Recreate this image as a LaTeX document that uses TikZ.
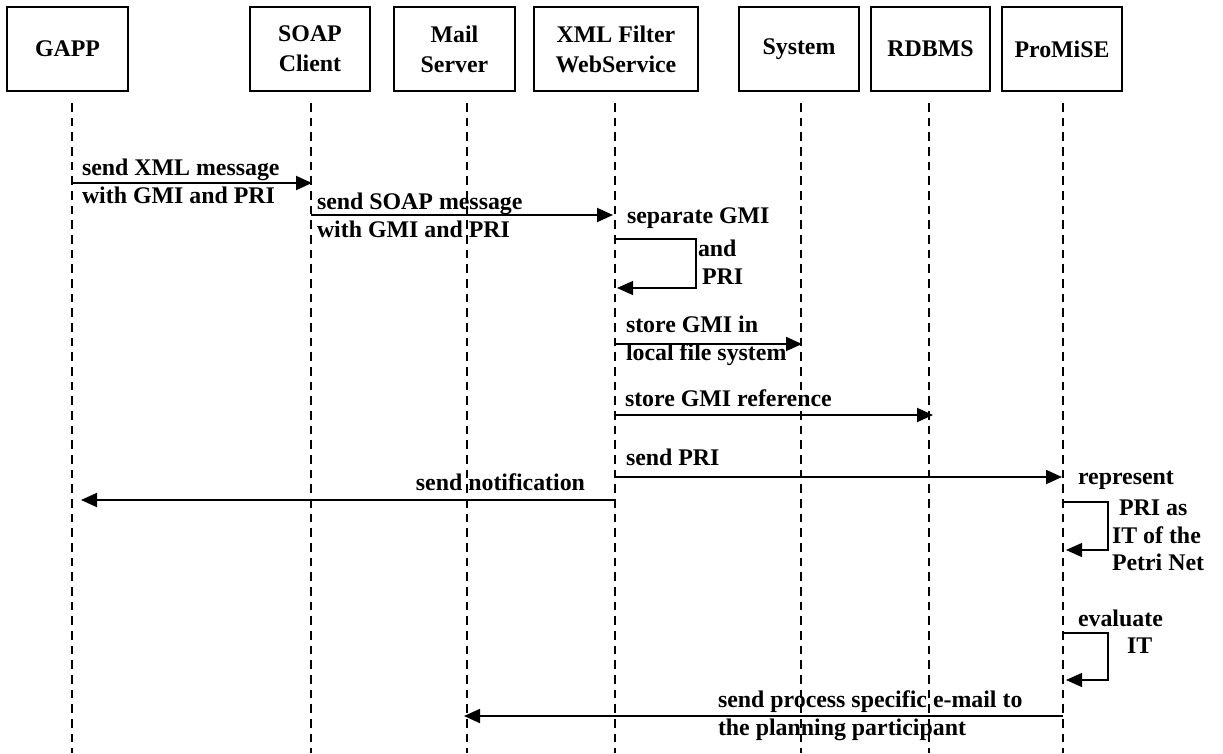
\documentclass[tikz,border=0pt]{standalone}
\usepackage{fontspec}
\setmainfont{Liberation Serif}
\usetikzlibrary{arrows.meta}
\begin{document}
\begin{tikzpicture}[x=0.75pt,y=-0.75pt,
  every node/.style={font=\fontsize{17.9}{21}\selectfont\bfseries, inner sep=0pt, outer sep=0pt},
  actor/.style={draw, line width=1.3pt, minimum height=63pt, align=center, font=\fontsize{17.9}{22.5}\selectfont\bfseries},
  life/.style={line width=1pt, dash pattern=on 6.5pt off 4.5pt},
  msg/.style={draw, line width=1.4pt, -{Triangle[length=12pt,width=10.5pt]}},
  loopmsg/.style={draw, line width=1pt, -{Triangle[length=12pt,width=10.5pt]}},
  lbl/.style={anchor=west, align=left},
  lble/.style={anchor=east, align=right}]
\useasboundingbox (0,0) rectangle (1223,753);

% actors
\node[actor, minimum width=90.75pt] (gapp) at (67.5,49) {GAPP};
\node[actor, minimum width=90pt] (soap) at (310,49) {SOAP\\Client};
\node[actor, minimum width=90.75pt] (mail) at (454.5,49) {Mail\\Server};
\node[actor, minimum width=123pt] (xml) at (616,49) {XML Filter\\WebService};
\node[actor, minimum width=90pt] (sys) at (799,49) {System};
\node[actor, minimum width=89.25pt] (rdb) at (930.5,49) {RDBMS};
\node[actor, minimum width=90pt] (pro) at (1062,49) {ProMiSE};

% lifelines
\foreach \n/\x in {g/72, s/311, m/467, x/615, y/801, r/929, p/1063}{
  \coordinate (\n top) at (\x,103);
  \coordinate (\n bot) at (\x,753);
  \draw[life] (\n top) -- (\n bot);
}

% message 1
\coordinate (a1s) at (72,183); \coordinate (a1e) at (312,183);
\draw[msg] (a1s) -- (a1e);
\node[lbl] (l1) at (82,181) {send XML message\\with GMI and PRI};

% message 2
\coordinate (a2s) at (311,215); \coordinate (a2e) at (613,215);
\draw[msg] (a2s) -- (a2e);
\node[lbl] (l2) at (317,215) {send SOAP message\\with GMI and PRI};

% self loop XML
\coordinate (a3s) at (615,239); \coordinate (a3c1) at (696,239);
\coordinate (a3c2) at (696,288); \coordinate (a3e) at (617,288);
\draw[loopmsg] (a3s) -- (a3c1) -- (a3c2) -- (a3e);
\node[lbl] (l3a) at (627,218) {separate GMI};
\node[lbl] (l3b) at (698,248) {and};
\node[lbl] (l3c) at (702,277) {PRI};

% store GMI in local file system
\coordinate (a4s) at (615,344); \coordinate (a4e) at (802,344);
\draw[msg] (a4s) -- (a4e);
\node[lbl] (l4) at (626,341) {store GMI in\\local file system};

% store GMI reference
\coordinate (a5s) at (615,415); \coordinate (a5e) at (933,415);
\draw[msg] (a5s) -- (a5e);
\node[lbl] (l5) at (625,398) {store GMI reference};

% send PRI
\coordinate (a6s) at (615,477); \coordinate (a6e) at (1062,477);
\draw[msg] (a6s) -- (a6e);
\node[lbl] (l6) at (626,457) {send PRI};

% send notification
\coordinate (a7s) at (615,500); \coordinate (a7e) at (81,500);
\draw[msg] (a7s) -- (a7e);
\node[lble] (l7) at (585,482) {send notification};

% self loop ProMiSE 1
\coordinate (a8s) at (1063,502); \coordinate (a8c1) at (1108,502);
\coordinate (a8c2) at (1108,550); \coordinate (a8e) at (1066,550);
\draw[loopmsg] (a8s) -- (a8c1) -- (a8c2) -- (a8e);
\node[lbl] (l8a) at (1078,480) {represent};
\node[lbl] (l8b) at (1119,508) {PRI as};
\node[lbl] (l8c) at (1112,535) {IT of the};
\node[lbl] (l8d) at (1112,562) {Petri Net};

% self loop ProMiSE 2
\coordinate (a9s) at (1063,633); \coordinate (a9c1) at (1108,633);
\coordinate (a9c2) at (1108,680); \coordinate (a9e) at (1066,680);
\draw[loopmsg] (a9s) -- (a9c1) -- (a9c2) -- (a9e);
\node[lbl] (l9a) at (1078,618) {evaluate};
\node[lbl] (l9b) at (1127,646) {IT};

% send e-mail
\coordinate (a10s) at (1063,716); \coordinate (a10e) at (464,716);
\draw[msg] (a10s) -- (a10e);
\node[lbl] (l10) at (718,716) {send process specific e-mail to\\the planning participant};
\end{tikzpicture}
\end{document}
